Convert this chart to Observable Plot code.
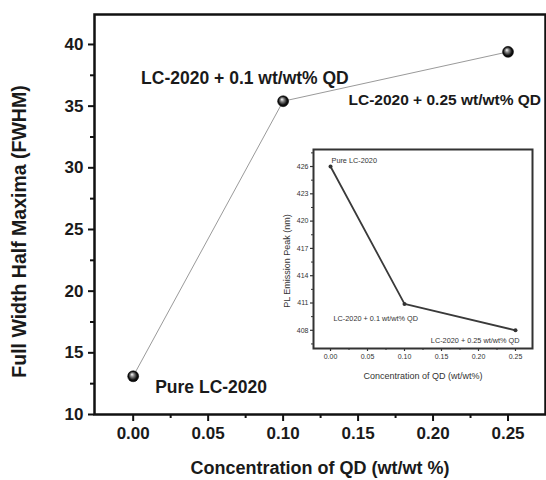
<!DOCTYPE html>
<html><head><meta charset="utf-8">
<script src="https://cdn.jsdelivr.net/npm/d3@7"></script>
<script src="https://cdn.jsdelivr.net/npm/@observablehq/plot@0.6"></script>
<style>
body{margin:0;background:#fff;}
#wrap{position:relative;width:546px;height:480px;}
#wrap > svg{position:absolute;}
</style></head><body><div id="wrap"></div>
<script>
// ---- data ----
const concentration = [0, 0.10, 0.25];
const fwhm = [13.1, 35.4, 39.4];
const plPeak = [426, 410.9, 408];
const sampleLabels = ["Pure LC-2020", "LC-2020 + 0.1 wt/wt% QD", "LC-2020 + 0.25 wt/wt% QD"];
const xTicks = [0, 0.05, 0.10, 0.15, 0.20, 0.25];
const xMinorTicks = [0.025, 0.075, 0.125, 0.175, 0.225];
const yTicks = [10, 15, 20, 25, 30, 35, 40];
const yMinorTicks = [12.5, 17.5, 22.5, 27.5, 32.5, 37.5];
const insetYTicks = [408, 411, 414, 417, 420, 423, 426];
const insetYMinorTicks = [406.5, 409.5, 412.5, 415.5, 418.5, 421.5, 424.5, 427.5];
const xTitle = "Concentration of QD (wt/wt %)";
const yTitle = "Full Width Half Maxima (FWHM)";
const insetXTitle = "Concentration of QD (wt/wt%)";
const insetYTitle = "PL Emission Peak (nm)";

const font = "'Liberation Sans', Arial, Helvetica, sans-serif";
const mainData = concentration.map((c, i) => ({c, v: fwhm[i], label: sampleLabels[i]}));
const insetData = concentration.map((c, i) => ({c, v: plPeak[i], label: sampleLabels[i]}));
const pick = (arr, i) => arr.filter((d, j) => j === i);

const wrap = document.getElementById("wrap");

// ---- main chart ----
const main = Plot.plot({
  width: 546, height: 480,
  marginLeft: 94, marginRight: 1, marginTop: 14, marginBottom: 66,
  style: {fontFamily: font, background: "transparent", overflow: "visible"},
  x: {domain: [-0.0258, 0.275]},
  y: {domain: [10, 42.43]},
  marks: [
    Plot.axisX(xTicks, {tickSize: 7, tickPadding: 5, strokeWidth: 2, stroke: "#111", fill: "#1a1a1a",
      fontSize: 17, fontWeight: "bold", tickFormat: d3.format(".2f"), label: null}),
    Plot.axisX(xMinorTicks, {tickSize: 4, strokeWidth: 2, stroke: "#111", tickFormat: () => "", label: null}),
    Plot.axisY(yTicks, {tickSize: 6, tickPadding: 5, strokeWidth: 2, stroke: "#111", fill: "#1a1a1a",
      fontSize: 17, fontWeight: "bold", label: null}),
    Plot.axisY(yMinorTicks, {tickSize: 4, strokeWidth: 2, stroke: "#111", tickFormat: () => "", label: null}),
    Plot.frame({stroke: "#111", strokeWidth: 2.5}),
    Plot.line(mainData, {x: "c", y: "v", stroke: "#9a9a9a", strokeWidth: 1}),
    Plot.dot(mainData, {x: "c", y: "v", r: 5.5, fill: "url(#sphere)", stroke: "#000", strokeWidth: 0.5}),
    Plot.text(pick(mainData, 0), {x: "c", y: "v", text: "label", dx: 22, dy: 11, textAnchor: "start",
      fontSize: 17.5, fontWeight: "bold", fill: "#1a1a1a"}),
    Plot.text(pick(mainData, 1), {x: "c", y: "v", text: "label", dx: -142, dy: -23, textAnchor: "start",
      fontSize: 17.5, fontWeight: "bold", fill: "#1a1a1a"}),
    Plot.text(pick(mainData, 2), {x: "c", y: "v", text: "label", dx: 33, dy: 48.5, textAnchor: "end",
      fontSize: 15.5, fontWeight: "bold", fill: "#1a1a1a"}),
    Plot.text([xTitle], {frameAnchor: "bottom", dy: 54, textAnchor: "middle", lineAnchor: "middle",
      fontSize: 18, fontWeight: "bold", fill: "#1a1a1a"}),
    Plot.text([yTitle], {frameAnchor: "left", dx: -75, dy: 17, rotate: -90, textAnchor: "middle", lineAnchor: "middle",
      fontSize: 19.5, fontWeight: "bold", fill: "#1a1a1a"})
  ]
});
main.style.left = "0px"; main.style.top = "0px";
const ns = "http://www.w3.org/2000/svg";
const defs = document.createElementNS(ns, "defs");
defs.innerHTML = '<radialGradient id="sphere" cx="50%" cy="50%" r="55%" fx="38%" fy="32%">' +
  '<stop offset="0%" stop-color="#ffffff"/><stop offset="30%" stop-color="#8a8a8a"/>' +
  '<stop offset="70%" stop-color="#111"/><stop offset="100%" stop-color="#000"/></radialGradient>';
main.prepend(defs);
wrap.appendChild(main);

// ---- inset ----
const inset = Plot.plot({
  width: 266, height: 248,
  marginLeft: 43, marginRight: 4, marginTop: 9, marginBottom: 40,
  style: {fontFamily: font, background: "transparent", overflow: "visible"},
  x: {domain: [-0.023, 0.273]},
  y: {domain: [406, 427.87]},
  marks: [
    Plot.axisX(xTicks, {tickSize: 3, tickPadding: 3, strokeWidth: 1.2, stroke: "#333", fill: "#333",
      fontSize: 7, tickFormat: d3.format(".2f"), label: null}),
    Plot.axisX(xMinorTicks, {tickSize: 2, strokeWidth: 1, stroke: "#333", tickFormat: () => "", label: null}),
    Plot.axisY(insetYTicks, {tickSize: 3, tickPadding: 2, strokeWidth: 1.2, stroke: "#333", fill: "#333",
      fontSize: 7, label: null}),
    Plot.axisY(insetYMinorTicks, {tickSize: 2, strokeWidth: 1, stroke: "#333", tickFormat: () => "", label: null}),
    Plot.frame({stroke: "#333", strokeWidth: 2}),
    Plot.line(insetData, {x: "c", y: "v", stroke: "#3a3a3a", strokeWidth: 1.8}),
    Plot.dot(insetData, {x: "c", y: "v", r: 2, fill: "#333"}),
    Plot.text(pick(insetData, 0), {x: "c", y: "v", text: "label", dx: 1, dy: -6, textAnchor: "start", fontSize: 7.3, fill: "#333"}),
    Plot.text(pick(insetData, 1), {x: "c", y: "v", text: "label", dx: -71, dy: 15, textAnchor: "start", fontSize: 7.3, fill: "#333"}),
    Plot.text(pick(insetData, 2), {x: "c", y: "v", text: "label", dx: 4, dy: 10, textAnchor: "end", fontSize: 7.3, fill: "#333"}),
    Plot.text([insetXTitle], {frameAnchor: "bottom", dy: 28, textAnchor: "middle", lineAnchor: "middle", fontSize: 9, fill: "#333"}),
    Plot.text([insetYTitle], {frameAnchor: "left", dx: -26, dy: 12, rotate: -90, textAnchor: "middle", lineAnchor: "middle", fontSize: 9, fill: "#333"})
  ]
});
inset.style.left = "270px"; inset.style.top = "140px";
wrap.appendChild(inset);
</script>
</body></html>
